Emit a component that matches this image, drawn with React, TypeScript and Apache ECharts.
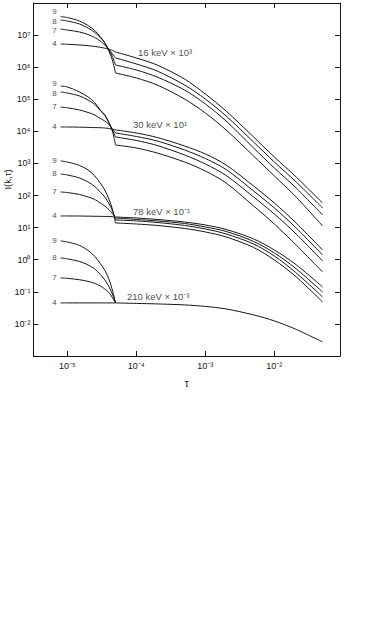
import React, { useEffect, useRef } from 'react';
import * as echarts from 'echarts';

// ---- axis ranges ----
const TAU_MIN = 3.24e-6;
const TAU_MAX = 0.0895;
const I_MIN = 1e-3;
const I_MAX = 1e8;
const TAU0 = 5e-5;

// ---- ticks ----
const xTicks = [1e-5, 1e-4, 1e-3, 1e-2];
const xTickLabels = ['10⁻⁵', '10⁻⁴', '10⁻³', '10⁻²'];
const yTicks = [1e-2, 1e-1, 1, 10, 100, 1e3, 1e4, 1e5, 1e6, 1e7];
const yTickLabels = ['10⁻²', '10⁻¹', '10⁰', '10¹', '10²', '10³', '10⁴', '10⁵', '10⁶', '10⁷'];

// ---- abscissae ----
const tauLeft = [8e-6, 1e-5, 1.5e-5, 2e-5, 2.5e-5, 3e-5, 3.5e-5, 4e-5, 4.5e-5, 5e-5];
const tauRight = [5e-5, 1e-4, 2e-4, 5e-4, 1e-3, 2e-3, 5e-3, 1e-2, 2e-2, 5e-2];

// ---- 16 keV × 10^3 ----
const kev16Left9 = [3.74e7, 3.53e7, 2.75e7, 1.99e7, 1.39e7, 9.04e6, 5.67e6, 3.2e6, 1.68e6, 6.6e5];
const kev16Left8 = [2.95e7, 2.75e7, 2.22e7, 1.66e7, 1.21e7, 8.42e6, 5.67e6, 3.56e6, 2.15e6, 1.17e6];
const kev16Left7 = [1.55e7, 1.44e7, 1.25e7, 1.04e7, 8.42e6, 6.55e6, 4.92e6, 3.56e6, 2.58e6, 1.94e6];
const kev16Left4 = [5.28e6, 5.17e6, 4.92e6, 4.68e6, 4.42e6, 4.17e6, 3.91e6, 3.64e6, 3.31e6, 2.98e6];
const kev16RightA = [2.98e6, 1.94e6, 1.17e6, 4.29e5, 1.46e5, 4.32e4, 6.7e3, 1.59e3, 408, 58.8];
const kev16RightB = [1.94e6, 1.26e6, 7.62e5, 2.79e5, 1.02e5, 3.02e4, 4.68e3, 1.11e3, 285, 41.1];
const kev16RightC = [1.17e6, 8.18e5, 4.95e5, 1.95e5, 7.14e4, 2.11e4, 3.04e3, 724, 185, 24.9];
const kev16RightD = [6.6e5, 4.61e5, 2.79e5, 1.02e5, 3.74e4, 1.11e4, 1.71e3, 408, 97.3, 11.3];

// ---- 30 keV × 10^1 ----
const kev30Left9 = [2.59e5, 2.42e5, 1.69e5, 1.18e5, 7.95e4, 4.64e4, 3.24e4, 1.89e4, 1.03e4, 3.77e3];
const kev30Left8 = [1.69e5, 1.57e5, 1.27e5, 9.51e4, 6.89e4, 4.48e4, 3.13e4, 1.89e4, 1.11e4, 6.7e3];
const kev30Left7 = [5.75e4, 5.43e4, 4.64e4, 3.88e4, 3.24e4, 2.52e4, 2.11e4, 1.64e4, 1.19e4, 8.91e3];
const kev30Left4 = [1.37e4, 1.37e4, 1.35e4, 1.33e4, 1.31e4, 1.3e4, 1.27e4, 1.23e4, 1.17e4, 1.11e4];
const kev30RightA = [1.11e4, 8.91e3, 6.46e3, 3.51e3, 1.98e3, 898, 199, 58.8, 15.0, 2.02];
const kev30RightB = [8.91e3, 6.93e3, 5.02e3, 2.63e3, 1.43e3, 650, 139, 41.1, 10.5, 1.41];
const kev30RightC = [6.7e3, 5.2e3, 3.64e3, 1.84e3, 964, 423, 90.4, 26.7, 6.84, 0.918];
const kev30RightD = [3.77e3, 3.04e3, 2.12e3, 1.11e3, 583, 247, 47.4, 13.0, 3.1, 0.417];

// ---- 78 keV × 10^-1 ----
const kev78Left9 = [1.2e3, 1.11e3, 867, 627, 408, 247, 149, 78.4, 38.2, 14.0];
const kev78Left8 = [471, 438, 353, 265, 192, 129, 90.4, 56.8, 34.4, 17.4];
const kev78Left7 = [129, 124, 108, 90.4, 75.6, 58.8, 47.4, 36.9, 27.7, 20.0];
const kev78Left4 = [23.1, 23.1, 23.0, 22.8, 22.6, 22.5, 22.3, 22.2, 21.8, 21.5];
const kev78RightA = [21.5, 20.0, 18.0, 15.0, 12.1, 8.79, 4.45, 2.02, 0.74, 0.142];
const kev78RightB = [20.0, 18.0, 16.2, 13.5, 10.5, 7.62, 3.72, 1.63, 0.555, 0.0993];
const kev78RightC = [17.4, 16.2, 14.5, 11.7, 9.1, 6.37, 3.1, 1.31, 0.417, 0.0693];
const kev78RightD = [14.0, 13.0, 11.7, 9.44, 7.35, 5.13, 2.42, 0.986, 0.313, 0.0484];

// ---- 210 keV × 10^-3 ----
const kev210Left9 = [3.85, 3.59, 2.79, 1.95, 1.27, 0.767, 0.465, 0.252, 0.115, 0.0451];
const kev210Left8 = [1.14, 1.07, 0.885, 0.689, 0.517, 0.348, 0.235, 0.147, 0.0859, 0.0451];
const kev210Left7 = [0.271, 0.263, 0.238, 0.211, 0.183, 0.153, 0.123, 0.0957, 0.0668, 0.0451];
const kev210Left4 = [0.0451, 0.0451, 0.0451, 0.0451, 0.0451, 0.0451, 0.0451, 0.0451, 0.0451, 0.0451];
const kev210Right = [0.0451, 0.0435, 0.042, 0.0391, 0.0351, 0.0293, 0.0191, 0.0124, 0.00698, 0.00275];

// ---- annotations ----
const curveNames = ['9', '8', '7', '4'];
const groupLabels = ['16 keV × 10³', '30 keV × 10¹', '78 keV × 10⁻¹', '210 keV × 10⁻³'];
const groupLabelTau = [1.06e-4, 8.95e-5, 8.95e-5, 7.33e-5];
const groupLabelI = [2.77e6, 1.58e4, 30.8, 0.0693];

const groups = [
  { left: [kev16Left9, kev16Left8, kev16Left7, kev16Left4], right: [kev16RightA, kev16RightB, kev16RightC, kev16RightD] },
  { left: [kev30Left9, kev30Left8, kev30Left7, kev30Left4], right: [kev30RightA, kev30RightB, kev30RightC, kev30RightD] },
  { left: [kev78Left9, kev78Left8, kev78Left7, kev78Left4], right: [kev78RightA, kev78RightB, kev78RightC, kev78RightD] },
  { left: [kev210Left9, kev210Left8, kev210Left7, kev210Left4], right: [kev210Right] },
];

// label nudges (pixels) for crowded curve numbers: key = group-curve
const labelNudge: Record<string, number> = { '0-0': -5, '0-1': 1, '0-2': 2, '1-0': -2.5, '1-1': 2 };

const INK = '#161616';
const FONT = 'Liberation Sans';

function tickFormatter(ticks: number[], labels: string[]) {
  return (v: number) => {
    const i = ticks.findIndex((t) => Math.abs(Math.log10(t) - Math.log10(v)) < 0.01);
    return i >= 0 ? labels[i] : '';
  };
}

export default function App() {
  const ref = useRef<HTMLDivElement>(null);
  useEffect(() => {
    const chart = echarts.init(ref.current!, null, { renderer: 'svg' });
    const series: any[] = [];
    const lineBase = {
      type: 'line',
      xAxisIndex: 0,
      yAxisIndex: 0,
      showSymbol: false,
      symbol: 'none',
      smooth: 0.3,
      silent: true,
      lineStyle: { color: INK, width: 1 },
    };
    const curveLabelData: any[] = [];
    groups.forEach((g, gi) => {
      g.left.forEach((arr, ci) => {
        series.push({ ...lineBase, data: tauLeft.map((t, i) => [t, arr[i]]) });
        curveLabelData.push({
          name: curveNames[ci],
          value: [tauLeft[0], arr[0]],
          label: { offset: [0, labelNudge[`${gi}-${ci}`] || 0] },
        });
      });
      g.right.forEach((arr) => {
        series.push({ ...lineBase, data: tauRight.map((t, i) => [t, arr[i]]) });
      });
    });
    // vertical line at tau0
    series[0].markLine = {
      silent: true,
      symbol: 'none',
      label: { show: false },
      lineStyle: { color: INK, width: 1, type: 'solid' },
      data: [{ xAxis: TAU0 }],
    };
    series.push({
      type: 'scatter',
      silent: true,
      symbolSize: 0,
      data: curveLabelData,
      label: {
        show: true,
        position: 'left',
        distance: 4,
        formatter: '{b}',
        color: INK,
        fontSize: 8,
        fontFamily: FONT,
      },
    });
    series.push({
      type: 'scatter',
      silent: true,
      symbolSize: 0,
      data: groupLabels.map((s, i) => ({ name: s, value: [groupLabelTau[i], groupLabelI[i]] })),
      label: {
        show: true,
        position: 'right',
        distance: 0,
        formatter: '{b}',
        color: INK,
        fontSize: 9.5,
        fontFamily: FONT,
      },
    });

    const axisLine = { show: true, lineStyle: { color: INK, width: 1 } };
    const option: any = {
      animation: false,
      backgroundColor: '#ffffff',
      grid: { left: 33.5, right: 34, top: 3, bottom: 267, containLabel: false, outerBoundsMode: 'none' },
      xAxis: [
        {
          type: 'log',
          min: TAU_MIN,
          max: TAU_MAX,
          position: 'bottom',
          name: 'τ',
          nameLocation: 'middle',
          nameGap: 22,
          nameMoveOverlap: false,
          nameTextStyle: { color: INK, fontSize: 10, fontFamily: FONT },
          axisLine,
          splitLine: { show: false },
          minorTick: { show: false },
          axisTick: { show: true, inside: true, length: 5, lineStyle: { color: INK }, customValues: xTicks },
          axisLabel: {
            customValues: xTicks,
            formatter: tickFormatter(xTicks, xTickLabels),
            color: INK,
            fontSize: 9,
            fontFamily: FONT,
            margin: 5,
          },
        },
        {
          type: 'log',
          min: TAU_MIN,
          max: TAU_MAX,
          position: 'top',
          axisLine,
          splitLine: { show: false },
          axisTick: { show: true, inside: true, length: 5, lineStyle: { color: INK }, customValues: xTicks },
          axisLabel: { show: false },
        },
      ],
      yAxis: [
        {
          type: 'log',
          min: I_MIN,
          max: I_MAX,
          position: 'left',
          name: 'I(k,τ)',
          nameLocation: 'middle',
          nameGap: 21,
          nameRotate: 90,
          nameMoveOverlap: false,
          nameTextStyle: { color: INK, fontSize: 9.5, fontFamily: FONT },
          axisLine,
          splitLine: { show: false },
          axisTick: { show: true, inside: true, length: 5, lineStyle: { color: INK }, customValues: yTicks },
          axisLabel: {
            customValues: yTicks,
            formatter: tickFormatter(yTicks, yTickLabels),
            color: INK,
            fontSize: 9,
            fontFamily: FONT,
            margin: 3,
          },
        },
        {
          type: 'log',
          min: I_MIN,
          max: I_MAX,
          position: 'right',
          axisLine,
          splitLine: { show: false },
          axisTick: { show: true, inside: true, length: 5, lineStyle: { color: INK }, customValues: yTicks },
          axisLabel: { show: false },
        },
      ],
      series,
    };
    chart.setOption(option);
    return () => chart.dispose();
  }, []);
  return (
    <div
      ref={ref}
      style={{ position: 'fixed', left: 0, top: 0, width: 374, height: 623, background: '#fff' }}
    />
  );
}
